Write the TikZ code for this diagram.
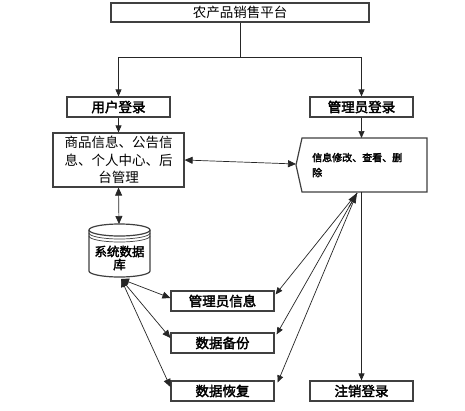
\documentclass[tikz,border=0pt]{standalone}
\usepackage{fontspec}
\setmainfont{Noto Sans CJK SC}[BoldFont={Noto Sans CJK SC},BoldFeatures={FakeBold=2.5}]
\usetikzlibrary{arrows.meta,calc}
\tikzset{
  boxline/.style={draw=black!75, line width=1.2pt},
  box/.style={boxline, fill=white, rectangle, inner sep=0pt, minimum width=103pt, minimum height=20pt, font=\fontsize{13.5}{15}\selectfont\bfseries},
  conn/.style={draw=black!85, line width=0.7pt},
  arr/.style={conn, -{Triangle[length=7pt,width=6pt]}},
  darr/.style={conn, {Triangle[length=8pt,width=7pt]}-{Triangle[length=8pt,width=7pt]}},
  bigtip/.style={conn, -{Triangle[length=10pt,width=8pt]}},
}
\begin{document}
\begin{tikzpicture}[x=1pt,y=-1pt]
\useasboundingbox[fill=white] (0,0) rectangle (465,410);
% nodes
\node[box, minimum width=258pt, minimum height=19pt, font=\fontsize{13.5}{15}\selectfont] (top) at (240,12.5) {农产品销售平台};
\node[box] (user) at (118.5,107) {用户登录};
\node[box] (admin) at (361.5,107) {管理员登录};
\node[box, minimum width=131pt, minimum height=54pt, align=center, font=\fontsize{13.5}{17.5}\selectfont] (info) at (118.5,160) {商品信息、公告信\\息、个人中心、后\\台管理};
% pentagon-like shape
\draw[boxline] (302,138) -- (427,138) -- (427,192) -- (302,192) -- (296,165) -- cycle;
\node[align=left, inner sep=0pt, anchor=west, font=\fontsize{10}{15}\selectfont\bfseries] (edit) at (312,165) {信息修改、查看、删\\除};
\coordinate (pl) at (296,164);
\coordinate (pt) at (361.5,138);
\coordinate (pb) at (357,193);
\coordinate (pv) at (361.5,192);
% cylinder
\draw[boxline, fill=white] (89,230) -- (89,271) arc[start angle=180,end angle=0,x radius=30.5,y radius=6] -- (150,230);
\draw[boxline] (119.5,230) ellipse[x radius=30.5, y radius=6];
\draw[draw=black!75, line width=0.7pt] (89,233) arc[start angle=180,end angle=0,x radius=30.5,y radius=6];
\draw[draw=black!75, line width=0.7pt] (89,236) arc[start angle=180,end angle=0,x radius=30.5,y radius=6];
\node[align=center, inner sep=0pt, font=\fontsize{12.5}{13}\selectfont\bfseries] (db) at (119.5,258) {系统数据\\库};
\coordinate (dbt) at (119,224);
\coordinate (dbb) at (121,279);
% lower boxes
\node[box] (mi) at (222.5,301) {管理员信息};
\node[box] (bk) at (222.5,343) {数据备份};
\node[box] (rc) at (222.5,391) {数据恢复};
\node[box] (lo) at (361.5,391) {注销登录};
% connectors
\coordinate (split) at (240,57);
\draw[arr] (top.south) -- (split) -| (user.north);
\draw[arr] (split) -| (admin.north);
\draw[arr] (user.south) -- (info.north);
\draw[arr] (admin.south) -- (pt);
\draw[darr] (info.east |- 0,160) -- (pl);
\draw[darr] (info.south) -- (dbt);
\draw[arr] (pv) -- (lo.north);
\draw[conn, -{Triangle[length=7pt,width=6pt]}] (pb) -- ($(mi.north east)+(1,4)$);
\draw[conn, -{Triangle[length=7pt,width=6pt]}] (pb) -- ($(bk.north east)+(2,2)$);
\draw[conn, -{Triangle[length=7pt,width=6pt]}] (pb) -- ($(rc.north east)+(3,2)$);
\draw[bigtip] ($(pb)+(-8,14)$) -- (pb);
\draw[darr] (dbb) -- ($(mi.west)+(0,-3)$);
\draw[darr] (dbb) -- ($(bk.west)+(0,-5)$);
\draw[darr] (dbb) -- ($(rc.west)+(0,-4)$);
\end{tikzpicture}
\end{document}
